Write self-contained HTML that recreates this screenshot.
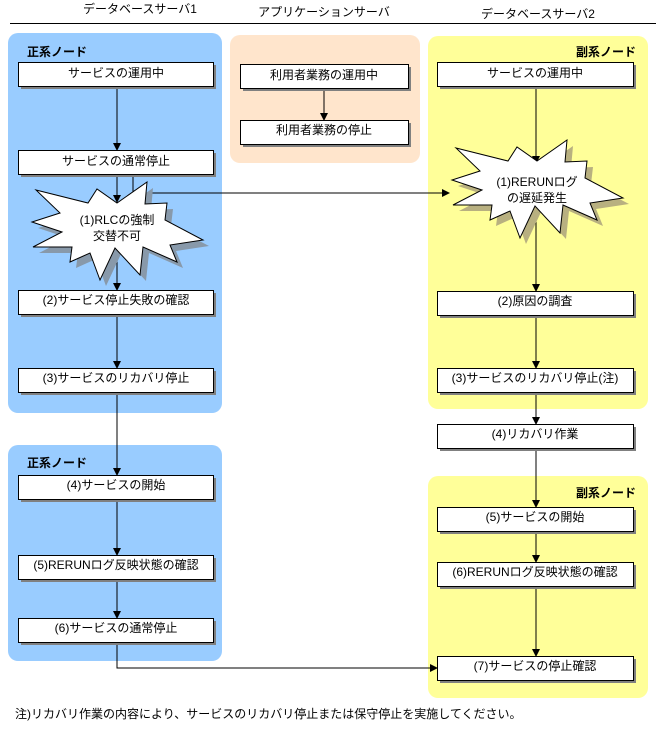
<!DOCTYPE html>
<html><head><meta charset="utf-8"><style>
body{margin:0;background:#fff}
svg text{font-family:"Liberation Sans","Noto Sans CJK JP",sans-serif;font-size:12px;fill:#000}
</style></head><body>
<svg width="656" height="725" viewBox="0 0 656 725" xmlns="http://www.w3.org/2000/svg">
<defs>
<marker id="a" markerWidth="8" markerHeight="8" refX="7" refY="4" orient="auto" markerUnits="userSpaceOnUse"><path d="M0,0 L8,4 L0,8 z" fill="#000"/></marker>
</defs>
<text x="140" y="13" text-anchor="middle">データベースサーバ1</text>
<text x="324" y="16" text-anchor="middle">アプリケーションサーバ</text>
<text x="538" y="18" text-anchor="middle">データベースサーバ2</text>
<line x1="10" y1="23.5" x2="656" y2="23.5" stroke="#000"/>
<rect x="8" y="33" width="214" height="380" rx="10" fill="#99ccff"/>
<rect x="230" y="35" width="190" height="128" rx="10" fill="#ffe5cc"/>
<rect x="428" y="36" width="220" height="373" rx="10" fill="#ffff99"/>
<rect x="8" y="445" width="214" height="216" rx="10" fill="#99ccff"/>
<rect x="428" y="476" width="220" height="222" rx="10" fill="#ffff99"/>
<text x="27" y="56" style="font-weight:bold">正系ノード</text>
<text x="27" y="467" style="font-weight:bold">正系ノード</text>
<text x="636" y="56" text-anchor="end" style="font-weight:bold">副系ノード</text>
<text x="636" y="497" text-anchor="end" style="font-weight:bold">副系ノード</text>
<g stroke="#000" fill="none">
<line x1="117" y1="86" x2="117" y2="150" marker-end="url(#a)"/>
<line x1="117" y1="174" x2="117" y2="202" marker-end="url(#a)"/>
<polyline points="133,174 133,193 449,193" marker-end="url(#a)"/>
<line x1="117" y1="250" x2="117" y2="290" marker-end="url(#a)"/>
<line x1="117" y1="314" x2="117" y2="368" marker-end="url(#a)"/>
<line x1="117" y1="392" x2="117" y2="475" marker-end="url(#a)"/>
<line x1="117" y1="499" x2="117" y2="555" marker-end="url(#a)"/>
<line x1="117" y1="579" x2="117" y2="618" marker-end="url(#a)"/>
<polyline points="117,642 117,668 437,668" marker-end="url(#a)"/>
<line x1="324" y1="88" x2="324" y2="120" marker-end="url(#a)"/>
<line x1="536" y1="86" x2="536" y2="163" marker-end="url(#a)"/>
<line x1="536" y1="220" x2="536" y2="291" marker-end="url(#a)"/>
<line x1="536" y1="315" x2="536" y2="368" marker-end="url(#a)"/>
<line x1="536" y1="392" x2="536" y2="424" marker-end="url(#a)"/>
<line x1="536" y1="448" x2="536" y2="507" marker-end="url(#a)"/>
<line x1="536" y1="531" x2="536" y2="562" marker-end="url(#a)"/>
<line x1="536" y1="586" x2="536" y2="656" marker-end="url(#a)"/>
</g>
<g>
<polygon transform="translate(6,6)" fill="#8899aa" points="36,190 88,203 97,189 117,203 147,182 145,204 167,203 165,220 203,240 170,245 177,262 143,247 140,275 115,248 100,280 90,253 70,262 72,247 33,247 62,232 32,222 60,213"/>
<polygon fill="#fff" stroke="#000" points="36,190 88,203 97,189 117,203 147,182 145,204 167,203 165,220 203,240 170,245 177,262 143,247 140,275 115,248 100,280 90,253 70,262 72,247 33,247 62,232 32,222 60,213"/>
</g>
<text x="117" y="224" text-anchor="middle">(1)RLCの強制</text>
<text x="117" y="240" text-anchor="middle">交替不可</text>
<g transform="translate(420,-42)">
<polygon transform="translate(6,6)" fill="#b8b080" points="36,190 88,203 97,189 117,203 147,182 145,204 167,203 165,220 203,240 170,245 177,262 143,247 140,275 115,248 100,280 90,253 70,262 72,247 33,247 62,232 32,222 60,213"/>
<polygon fill="#fff" stroke="#000" points="36,190 88,203 97,189 117,203 147,182 145,204 167,203 165,220 203,240 170,245 177,262 143,247 140,275 115,248 100,280 90,253 70,262 72,247 33,247 62,232 32,222 60,213"/>
</g>
<text x="537" y="186" text-anchor="middle">(1)RERUNログ</text>
<text x="537" y="202" text-anchor="middle">の遅延発生</text>
<g fill="#808080">
<rect x="21" y="65" width="195" height="24"/><rect x="21" y="153" width="195" height="24"/>
<rect x="21" y="293" width="195" height="24"/><rect x="21" y="371" width="195" height="24"/>
<rect x="21" y="478" width="195" height="24"/><rect x="21" y="558" width="195" height="24"/>
<rect x="21" y="621" width="195" height="24"/>
<rect x="243" y="67" width="168" height="24"/><rect x="243" y="123" width="168" height="24"/>
<rect x="440" y="65" width="196" height="24"/><rect x="440" y="294" width="196" height="24"/>
<rect x="440" y="371" width="196" height="24"/><rect x="440" y="427" width="196" height="24"/>
<rect x="440" y="510" width="196" height="24"/><rect x="440" y="565" width="196" height="24"/>
<rect x="440" y="659" width="196" height="24"/>
</g>
<g fill="#fff" stroke="#000">
<rect x="18.5" y="62.5" width="195" height="24"/><rect x="18.5" y="150.5" width="195" height="24"/>
<rect x="18.5" y="290.5" width="195" height="24"/><rect x="18.5" y="368.5" width="195" height="24"/>
<rect x="18.5" y="475.5" width="195" height="24"/><rect x="18.5" y="555.5" width="195" height="24"/>
<rect x="18.5" y="618.5" width="195" height="24"/>
<rect x="240.5" y="64.5" width="168" height="24"/><rect x="240.5" y="120.5" width="168" height="24"/>
<rect x="437.5" y="62.5" width="196" height="24"/><rect x="437.5" y="291.5" width="196" height="24"/>
<rect x="437.5" y="368.5" width="196" height="24"/><rect x="437.5" y="424.5" width="196" height="24"/>
<rect x="437.5" y="507.5" width="196" height="24"/><rect x="437.5" y="562.5" width="196" height="24"/>
<rect x="437.5" y="656.5" width="196" height="24"/>
</g>
<g text-anchor="middle">
<text x="116" y="77">サービスの運用中</text>
<text x="116" y="165">サービスの通常停止</text>
<text x="116" y="304">(2)サービス停止失敗の確認</text>
<text x="116" y="382">(3)サービスのリカバリ停止</text>
<text x="116" y="489">(4)サービスの開始</text>
<text x="116" y="569">(5)RERUNログ反映状態の確認</text>
<text x="116" y="632">(6)サービスの通常停止</text>
<text x="324" y="79">利用者業務の運用中</text>
<text x="324" y="134">利用者業務の停止</text>
<text x="535" y="77">サービスの運用中</text>
<text x="535" y="305">(2)原因の調査</text>
<text x="535" y="382">(3)サービスのリカバリ停止(注)</text>
<text x="535" y="438">(4)リカバリ作業</text>
<text x="535" y="521">(5)サービスの開始</text>
<text x="535" y="576">(6)RERUNログ反映状態の確認</text>
<text x="535" y="670">(7)サービスの停止確認</text>
</g>
<text x="15" y="718">注)リカバリ作業の内容により、サービスのリカバリ停止または保守停止を実施してください。</text>
</svg>
</body></html>
